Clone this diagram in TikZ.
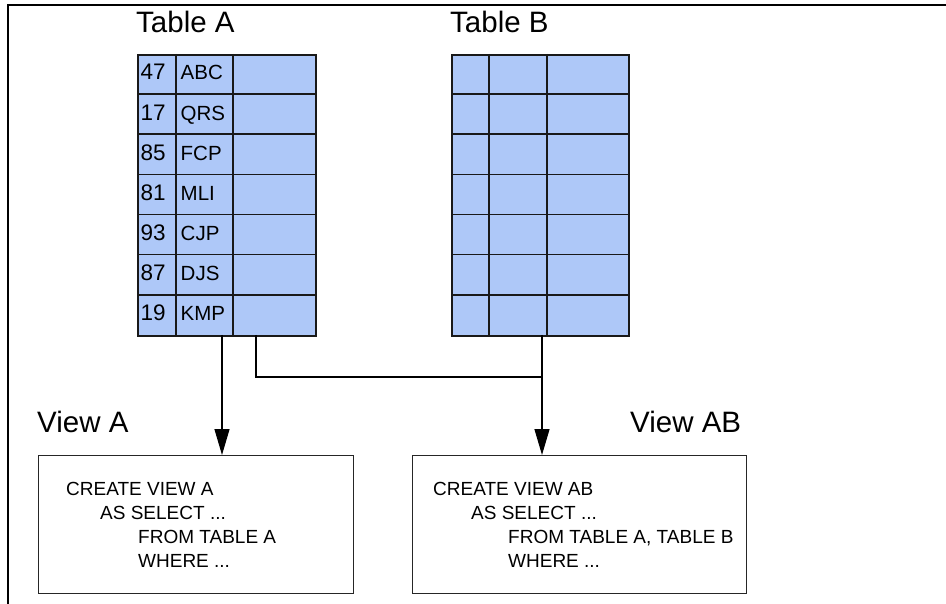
\documentclass[tikz,border=0pt]{standalone}
\usepackage{fontspec}
\setmainfont{Liberation Sans}
\usetikzlibrary{arrows.meta}
\definecolor{cellblue}{RGB}{174,200,248}
\begin{document}
\begin{tikzpicture}[x=1pt,y=-1pt,
  tbl/.style={draw=black!90, line width=1.6pt, fill=cellblue, inner sep=0pt, anchor=north west, minimum height=281pt},
  tline/.style={draw=black!90, line width=1.6pt},
  viewbox/.style={draw=black!85, line width=1.4pt, inner sep=0pt, anchor=north west, minimum height=138pt},
  conn/.style={draw=black, line width=1.3pt},
  arr/.style={conn, -{Triangle[length=26pt,width=15pt]}},
  title/.style={anchor=base west, inner sep=0pt, font=\fontsize{29.5}{34}\selectfont},
  num/.style={anchor=base west, inner sep=0pt, font=\fontsize{22.5}{26}\selectfont},
  code/.style={anchor=base west, inner sep=0pt, font=\fontsize{20.5}{24}\selectfont},
  sql/.style={anchor=base west, inner sep=0pt, font=\fontsize{19}{22}\selectfont}]
\useasboundingbox (0,0) rectangle (946,604);
% frame (top and left)
\draw[line width=1.5pt] (8,604) -- (8,5) -- (946,5);

% titles
\node[title] (ltA) at (136,33) {Table A};
\node[title] (ltB) at (450,33) {Table B};
\node[title] (lvA) at (37,432) {View A};
\node[title] (lvAB) at (630,432) {View AB};

% Table A
\node[tbl, minimum width=178pt] (tA) at (137,54) {};
\foreach \c in {176,233} \draw[tline] (\c,54) -- (\c,335);
\foreach \r in {1,...,6} \draw[tline] (137,54+\r*40.14) -- (315,54+\r*40.14);
\foreach \n/\t [count=\i from 0] in {47/ABC,17/QRS,85/FCP,81/MLI,93/CJP,87/DJS,19/KMP} {
  \node[num] (n\i) at (140.5,80+\i*40.14) {\n};
  \node[code] (c\i) at (180.5,80+\i*40.14) {\t};
}

% Table B
\node[tbl, minimum width=177pt] (tB) at (451,54) {};
\foreach \c in {489,547} \draw[tline] (\c,54) -- (\c,335);
\foreach \r in {1,...,6} \draw[tline] (451,54+\r*40.14) -- (628,54+\r*40.14);

% Views
\node[viewbox, minimum width=315pt] (vA) at (38,455) {};
\node[viewbox, minimum width=334pt] (vAB) at (412,455) {};

\node[sql] (a1) at (66,495) {CREATE VIEW A};
\node[sql] (a2) at (100,519) {AS SELECT ...};
\node[sql] (a3) at (138,543) {FROM TABLE A};
\node[sql] (a4) at (138,567) {WHERE ...};

\node[sql] (b1) at (433,495) {CREATE VIEW AB};
\node[sql] (b2) at (471,519) {AS SELECT ...};
\node[sql] (b3) at (508,543) {FROM TABLE A, TABLE B};
\node[sql] (b4) at (508,567) {WHERE ...};

% connectors
\coordinate (pA) at (222,335);
\coordinate (pA2) at (256,335);
\coordinate (pB) at (542,335);
\coordinate (jB) at (542,377);
\draw[arr] (pA) -- (pA |- vA.north);
\draw[arr] (pB) -- (pB |- vAB.north);
\draw[conn] (pA2) |- (jB);
\end{tikzpicture}
\end{document}
